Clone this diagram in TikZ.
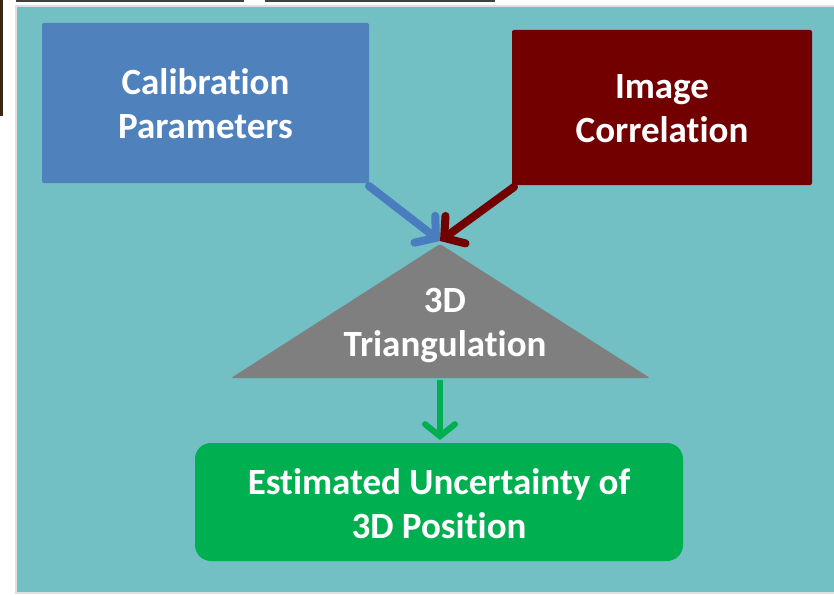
\documentclass[tikz,border=0pt]{standalone}
\usepackage{fontspec}
\setmainfont{Carlito}[RawFeature=-liga]
\usetikzlibrary{arrows.meta}
\definecolor{tealbg}{HTML}{72BFC4}
\definecolor{calblue}{HTML}{4F81BD}
\definecolor{corred}{HTML}{720000}
\definecolor{trigray}{HTML}{7F7F7F}
\definecolor{estgreen}{HTML}{00B050}
\definecolor{arrowblue}{HTML}{4A7CC0}
\tikzset{
  x=1pt, y=-1pt,
  lbl/.style={text=white, font=\fontsize{37}{44}\selectfont\bfseries, align=center, inner sep=0pt},
  conn/.style={line width=8pt, line cap=round, -{Straight Barb[length=14pt, width=34pt, line cap=round]}},
}
\begin{document}
\begin{tikzpicture}
\useasboundingbox (0,0) rectangle (834,594);
\fill[white] (0,0) rectangle (834,594);
% artifacts of the crop
\fill[black!75] (16,0) rectangle (244,2);
\fill[black!75] (265,0) rectangle (495,2);
\fill[black!70!brown] (0,0) rectangle (3,116);
% background panel
\fill[black!12] (15,5) rectangle (834,594);
\fill[tealbg] (17,7) rectangle (834,592);
% boxes
\fill[calblue, rounded corners=2pt] (42,23) rectangle (369,183);
\node[lbl] (cal) at (205.5,104) {Calibration\\Parameters};
\fill[corred, rounded corners=2pt] (512,30) rectangle (812,185);
\node[lbl] (cor) at (662,109) {Image\\Correlation};
\fill[trigray, rounded corners=1.5pt] (440,244) -- (650,378) -- (231,378) -- cycle;
\coordinate (apex) at (440,241);
\coordinate (tribase) at (440,380);
\node[lbl] (tri) at (445,325) {3D\\Triangulation};
\fill[estgreen, rounded corners=16pt] (195,443) rectangle (683,561);
\node[lbl] (est) at (439,504) {Estimated Uncertainty of\\3D Position};
\coordinate (estTop) at (440,440);
\coordinate (calOut) at (369,186);
\coordinate (corOut) at (514,187);
% connectors
\draw[conn, draw=arrowblue] (calOut) -- (apex);
\draw[conn, draw=corred] (corOut) -- (apex);
\draw[line width=6pt, draw=estgreen, -{Straight Barb[length=12pt, width=30pt, line cap=round]}] (tribase) -- (estTop);
\end{tikzpicture}
\end{document}
